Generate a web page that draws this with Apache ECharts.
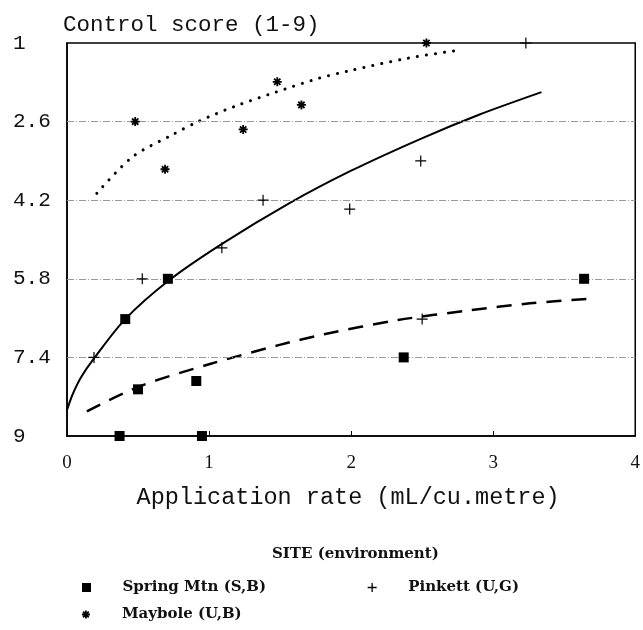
<!DOCTYPE html>
<html><head><meta charset="utf-8">
<script src="https://cdn.jsdelivr.net/npm/echarts@6/dist/echarts.min.js"></script>
<style>html,body{margin:0;padding:0;background:#fff}#c{width:643px;height:630px}</style>
</head><body><div id="c"></div>
<script>
// ---- data ----
const xTicks = [0, 1, 2, 3, 4];
const yTicks = [1, 2.6, 4.2, 5.8, 7.4, 9];
const seriesNames = ['Spring Mtn (S,B)', 'Pinkett (U,G)', 'Maybole (U,B)'];
const springMtn = [[0.37, 9], [0.95, 9], [0.41, 6.62], [0.71, 5.8], [0.50, 8.05], [0.91, 7.88], [2.37, 7.4], [3.64, 5.8]];
const pinkett = [[0.19, 7.4], [0.53, 5.8], [1.09, 5.17], [1.38, 4.2], [1.99, 4.38], [2.49, 3.40], [2.50, 6.62], [3.23, 1.0]];
const maybole = [[0.48, 2.6], [0.69, 3.57], [1.24, 2.76], [1.48, 1.79], [1.65, 2.26], [2.53, 1.0]];
const solidFit = [[0, 8.47], [0.04, 8.15], [0.1, 7.8], [0.19, 7.42], [0.41, 6.62], [0.71, 5.85], [1.08, 5.11], [1.56, 4.27], [2.0, 3.6], [2.49, 2.95], [2.9, 2.46], [3.34, 2.0]];
const dottedFit = [[0.21, 4.06], [0.46, 3.32], [0.74, 2.87], [0.93, 2.59], [1.19, 2.28], [1.47, 2.0], [1.77, 1.72], [1.98, 1.57], [2.40, 1.31], [2.77, 1.14]];
const dashedFit = [[0.14, 8.5], [0.51, 7.99], [1.0, 7.54], [1.49, 7.15], [1.81, 6.93], [2.33, 6.64], [2.84, 6.44], [3.26, 6.30], [3.66, 6.21]];

// ---- styling ----
const SQUARE = 'path://M0,0H10V10H0Z';
const PLUS = 'path://M5,0V10M0,5H10';
const STAR = 'path://M5,0V10M0,5H10M1.5,1.5L8.5,8.5M8.5,1.5L1.5,8.5';
const monoFont = 'Liberation Mono';
const legendText = {fontFamily: 'DejaVu Serif', fontWeight: 'bold', fontSize: 15, color: '#111'};

const chart = echarts.init(document.getElementById('c'), null, {renderer: 'canvas'});
chart.setOption({
  animation: false,
  backgroundColor: '#fff',
  title: {
    text: 'SITE (environment)', left: 272, top: 547, padding: 0,
    textStyle: legendText
  },
  legend: [
    {data: [seriesNames[0]], left: 82, top: 580, padding: 0, itemWidth: 62, itemHeight: 9, textStyle: legendText, selectedMode: false},
    {data: [seriesNames[1]], left: 367, top: 580, padding: 0, itemWidth: 62, itemHeight: 9, textStyle: legendText, selectedMode: false, itemStyle: {borderWidth: 1.3}},
    {data: [seriesNames[2]], left: 81, top: 607, padding: 0, itemWidth: 62, itemHeight: 8, textStyle: legendText, selectedMode: false, itemStyle: {borderWidth: 1.8}}
  ],
  grid: {left: 67, right: 5, top: 43, bottom: 194, show: true, borderColor: '#000', borderWidth: 1.5, backgroundColor: 'transparent'},
  xAxis: {
    type: 'value', min: xTicks[0], max: xTicks[xTicks.length - 1], interval: 1,
    name: 'Application rate (mL/cu.metre)', nameLocation: 'middle', nameGap: 62,
    nameTextStyle: {fontFamily: monoFont, fontSize: 23.5, color: '#111', verticalAlign: 'middle', padding: [0, 6, 0, 0]},
    axisLine: {lineStyle: {color: '#000', width: 1.5}},
    axisTick: {show: true, inside: true, length: 5, lineStyle: {color: '#000', width: 1}},
    axisLabel: {fontFamily: 'Liberation Serif', fontSize: 19, color: '#111', margin: 18},
    splitLine: {show: false}
  },
  yAxis: {
    type: 'value', inverse: true, min: yTicks[0], max: yTicks[yTicks.length - 1], interval: 1.6,
    name: 'Control score (1-9)', nameLocation: 'start', nameGap: 18,
    nameTextStyle: {fontFamily: monoFont, fontSize: 22.5, color: '#111', align: 'left', verticalAlign: 'middle', padding: [0, 0, 0, -4]},
    axisLine: {lineStyle: {color: '#000', width: 1.5}},
    axisTick: {show: false},
    axisLabel: {fontFamily: monoFont, fontSize: 21, color: '#111', align: 'left', margin: 54},
    splitLine: {show: false}
  },
  series: [
    {
      name: seriesNames[0], type: 'scatter', data: springMtn, symbol: SQUARE, symbolSize: 10, clip: false, z: 5,
      itemStyle: {color: '#000', opacity: 1}
    },
    {
      name: seriesNames[1], type: 'scatter', data: pinkett, symbol: PLUS, symbolSize: 11, clip: false, z: 5,
      itemStyle: {color: '#000', borderColor: '#000', borderWidth: 1.2, opacity: 1}
    },
    {
      name: seriesNames[2], type: 'scatter', data: maybole, symbol: STAR, symbolSize: 9, clip: false, z: 5,
      itemStyle: {color: '#000', borderColor: '#000', borderWidth: 1.8, opacity: 1}
    },
    {
      name: 'fit-solid', type: 'line', data: solidFit, smooth: 0.3, showSymbol: false, symbol: 'none', z: 3,
      lineStyle: {color: '#000', width: 2},
      markLine: {
        silent: true, symbol: 'none', label: {show: false},
        lineStyle: {color: '#999', width: 1, type: [7, 2, 1, 2]},
        data: yTicks.slice(1, -1).map(v => ({yAxis: v}))
      }
    },
    {
      name: 'fit-dotted', type: 'line', data: dottedFit, smooth: 0.3, showSymbol: false, symbol: 'none', z: 3,
      lineStyle: {color: '#000', width: 3, type: [0.1, 9], cap: 'round'}
    },
    {
      name: 'fit-dashed', type: 'line', data: dashedFit, smooth: 0.3, showSymbol: false, symbol: 'none', z: 3,
      lineStyle: {color: '#000', width: 2.5, type: [15, 10]}
    }
  ]
});
</script></body></html>
